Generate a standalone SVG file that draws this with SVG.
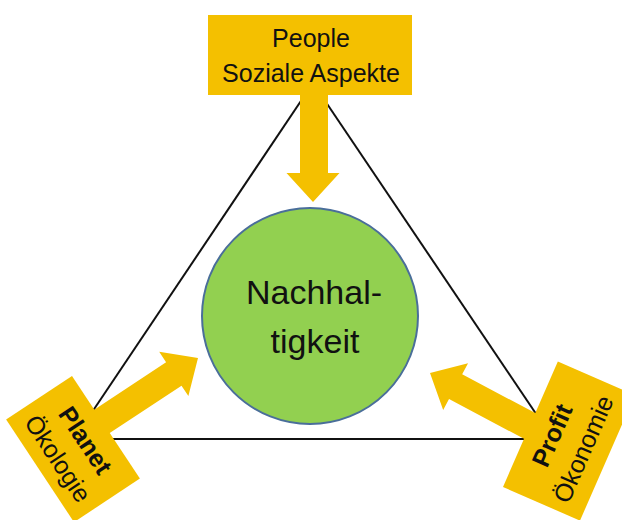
<svg xmlns="http://www.w3.org/2000/svg" width="622" height="520" viewBox="0 0 622 520">
<defs>
<style>
.box{fill:#F4C000;}
.arrow{fill:#F4C000;}
.tri{stroke:#111;stroke-width:2;fill:none;}
.lbl{font-family:"Liberation Sans",Arial,sans-serif;font-size:25px;fill:#111;text-anchor:middle;}
.b{font-weight:bold;}
.big{font-family:"Liberation Sans",Arial,sans-serif;font-size:34px;fill:#111;text-anchor:middle;}
</style>
<polygon id="arr" points="0,0 -29,-26.5 -29,-14 -140,-14 -140,14 -29,14 -29,26.5"/>
</defs>
<rect width="622" height="520" fill="#fff"/>
<g id="connectors">
<line class="tri" x1="313" y1="83" x2="74" y2="439"/>
<line class="tri" x1="313" y1="83" x2="553" y2="439"/>
<line class="tri" x1="74" y1="439" x2="553" y2="439" stroke-width="2.5"/>
<polygon class="arrow" points="300,90 328,90 328,173 339.5,173 313,202 286.5,173 300,173"/>
<use href="#arr" class="arrow" transform="translate(198,358) rotate(-33.4)"/>
<use href="#arr" class="arrow" transform="translate(430,373) rotate(208)"/>
</g>
<g id="center">
<circle cx="310" cy="316" r="108" fill="#92D050" stroke="#4A6E9A" stroke-width="2"/>
<text class="big" x="314" y="304">Nachhal-</text>
<text class="big" x="315" y="353">tigkeit</text>
</g>
<g id="people">
<rect class="box" x="208" y="15" width="204" height="80"/>
<text class="lbl" x="311" y="47">People</text>
<text class="lbl" x="311" y="82">Soziale Aspekte</text>
</g>
<g id="planet" transform="translate(72,376) rotate(56.5)">
<rect class="box" x="0" y="0" width="123" height="79"/>
<text class="lbl b" x="61" y="33">Planet</text>
<text class="lbl" x="61" y="66">Ökologie</text>
</g>
<g id="profit" transform="translate(503,487) rotate(-66.4)">
<rect class="box" x="0" y="0" width="137" height="84"/>
<text class="lbl b" x="67" y="33">Profit</text>
<text class="lbl" x="67" y="67">Ökonomie</text>
</g>
</svg>
